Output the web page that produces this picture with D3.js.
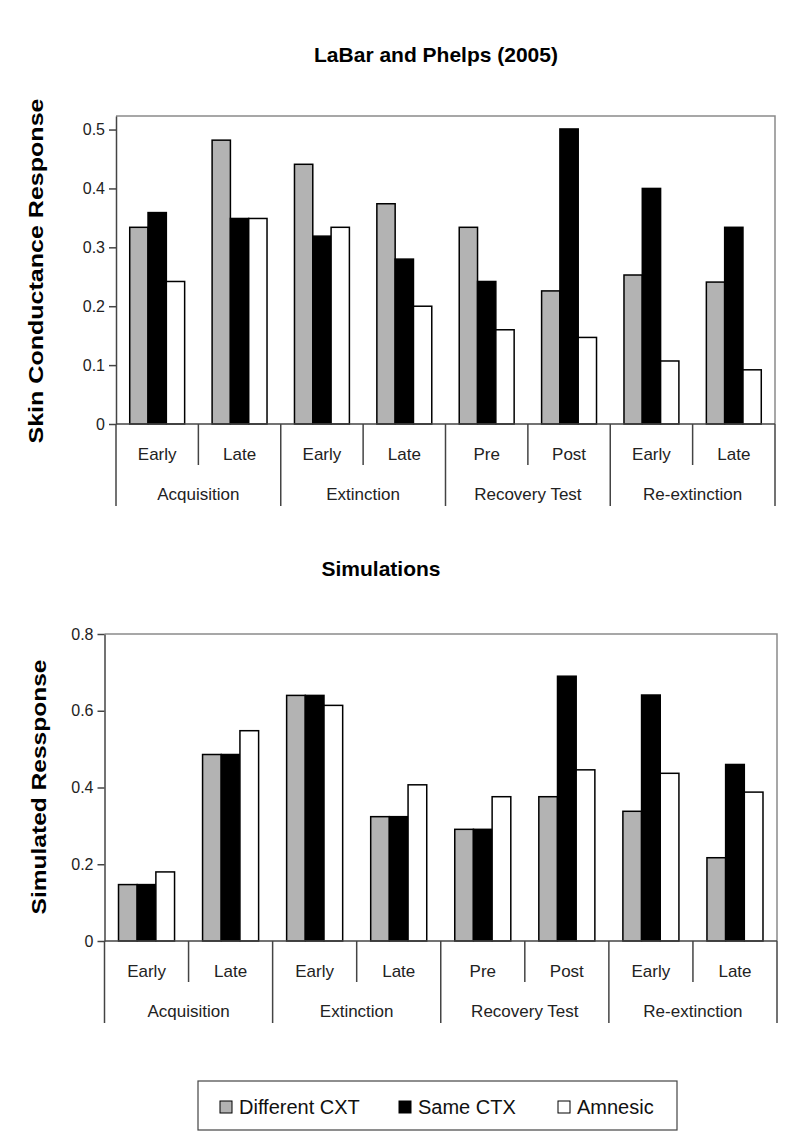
<!DOCTYPE html>
<html>
<head>
<meta charset="utf-8">
<script src="https://cdn.jsdelivr.net/npm/d3@7"></script>
<style>
  html, body { margin: 0; padding: 0; background: #fff; }
  svg { display: block; font-family: "Liberation Sans", Arial, sans-serif; }
</style>
</head>
<body>
<svg id="chart" width="800" height="1148"></svg>
<script>
// ---------- data ----------
const phases = ["Acquisition", "Extinction", "Recovery Test", "Re-extinction"];
const subLabels = ["Early", "Late", "Early", "Late", "Pre", "Post", "Early", "Late"];
const seriesNames = ["Different CXT", "Same CTX", "Amnesic"];

const labarDifferent = [0.334, 0.482, 0.441, 0.374, 0.334, 0.226, 0.253, 0.241];
const labarSame      = [0.359, 0.349, 0.319, 0.280, 0.242, 0.501, 0.400, 0.334];
const labarAmnesic   = [0.242, 0.349, 0.334, 0.200, 0.160, 0.147, 0.107, 0.092];
const labarTicks = [0, 0.1, 0.2, 0.3, 0.4, 0.5];

const simDifferent = [0.147, 0.486, 0.640, 0.324, 0.291, 0.376, 0.338, 0.217];
const simSame      = [0.147, 0.486, 0.640, 0.324, 0.291, 0.690, 0.641, 0.460];
const simAmnesic   = [0.180, 0.548, 0.614, 0.407, 0.376, 0.446, 0.437, 0.388];
const simTicks = [0, 0.2, 0.4, 0.6, 0.8];

const seriesColors = ["#b3b3b3", "#000000", "#ffffff"];

// ---------- drawing ----------
const svg = d3.select("#chart");

function drawChart(cfg) {
  const g = svg.append("g");
  const idx = d3.range(subLabels.length);
  const x = d3.scaleBand().domain(idx).range([cfg.left, cfg.right]).padding(0);
  const xs = d3.scaleBand().domain(seriesNames).range([0, x.bandwidth()])
    .paddingInner(0).paddingOuter(0.75);
  const y = d3.scaleLinear().domain([0, cfg.yMax]).range([cfg.bottom, cfg.top]);

  // frame (top & right)
  g.append("path")
    .attr("d", `M${cfg.left},${cfg.top}H${cfg.right}V${cfg.bottom}`)
    .attr("fill", "none").attr("stroke", "#8a8a8a").attr("stroke-width", 1.5);

  // bars
  const data = [];
  cfg.values.forEach((arr, s) => arr.forEach((v, i) => data.push({ i, s, v })));
  g.append("g").selectAll("rect").data(data).join("rect")
    .attr("x", d => x(d.i) + xs(seriesNames[d.s]))
    .attr("width", xs.bandwidth())
    .attr("y", d => y(d.v))
    .attr("height", d => y(0) - y(d.v))
    .attr("fill", d => seriesColors[d.s])
    .attr("stroke", "#000").attr("stroke-width", 1.5);

  // y axis
  const ya = g.append("g").attr("transform", `translate(${cfg.left},0)`)
    .call(d3.axisLeft(y).tickValues(cfg.ticks).tickSize(7).tickSizeOuter(0)
      .tickPadding(4).tickFormat(d => String(d)));
  ya.select(".domain").attr("stroke", "#444").attr("stroke-width", 1.5);
  ya.selectAll(".tick line").attr("stroke", "#444").attr("stroke-width", 1.5);
  ya.selectAll(".tick text").attr("font-size", 16).attr("fill", "#222")
    .attr("font-family", "Liberation Sans, Arial, sans-serif");

  // zero line
  g.append("line").attr("x1", cfg.left).attr("x2", cfg.right)
    .attr("y1", y(0)).attr("y2", y(0)).attr("stroke", "#444").attr("stroke-width", 1.5);

  // category dividers
  const bounds = d3.range(subLabels.length + 1);
  g.append("g").selectAll("line").data(bounds).join("line")
    .attr("x1", b => cfg.left + b * x.bandwidth())
    .attr("x2", b => cfg.left + b * x.bandwidth())
    .attr("y1", y(0))
    .attr("y2", b => y(0) + (b % 2 === 0 ? 82 : 41))
    .attr("stroke", "#444").attr("stroke-width", 1.5);

  // sub labels
  g.append("g").selectAll("text").data(idx).join("text")
    .attr("x", i => x(i) + x.bandwidth() / 2)
    .attr("y", y(0) + 36)
    .attr("text-anchor", "middle").attr("font-size", 17).attr("fill", "#222")
    .text(i => subLabels[i]);

  // phase labels
  g.append("g").selectAll("text").data(phases).join("text")
    .attr("x", (p, k) => x(k * 2) + x.bandwidth())
    .attr("y", y(0) + 76)
    .attr("text-anchor", "middle").attr("font-size", 17).attr("fill", "#222")
    .text(p => p);

  // title
  g.append("text").attr("x", cfg.titleX).attr("y", cfg.titleY)
    .attr("text-anchor", "middle").attr("font-size", 21).attr("font-weight", "bold")
    .text(cfg.title);

  // y label
  g.append("text")
    .attr("transform", `translate(${cfg.ylabX},${cfg.ylabY}) rotate(-90)`)
    .attr("text-anchor", "middle").attr("font-size", 21).attr("font-weight", "bold")
    .attr("textLength", cfg.ylabLen).attr("lengthAdjust", "spacingAndGlyphs")
    .text(cfg.ylabel);
}

drawChart({
  left: 116, right: 775, top: 116, bottom: 424, yMax: 0.523,
  values: [labarDifferent, labarSame, labarAmnesic], ticks: labarTicks,
  title: "LaBar and Phelps (2005)", titleX: 436, titleY: 62,
  ylabel: "Skin Conductance Response", ylabX: 43, ylabY: 271, ylabLen: 345
});

drawChart({
  left: 104.5, right: 777, top: 634, bottom: 941, yMax: 0.8,
  values: [simDifferent, simSame, simAmnesic], ticks: simTicks,
  title: "Simulations", titleX: 381, titleY: 576,
  ylabel: "Simulated Ressponse", ylabX: 46, ylabY: 787, ylabLen: 255
});

// legend
const lg = svg.append("g");
lg.append("rect").attr("x", 198).attr("y", 1081).attr("width", 479).attr("height", 49)
  .attr("fill", "#fff").attr("stroke", "#444").attr("stroke-width", 1.2);
const legendX = [220, 399, 558];
seriesNames.forEach((name, s) => {
  lg.append("rect").attr("x", legendX[s]).attr("y", 1101).attr("width", 12).attr("height", 12)
    .attr("fill", seriesColors[s]).attr("stroke", "#000").attr("stroke-width", 1);
  lg.append("text").attr("x", legendX[s] + 19).attr("y", 1114)
    .attr("font-size", 20).attr("fill", "#111").text(name);
});
</script>
</body>
</html>
